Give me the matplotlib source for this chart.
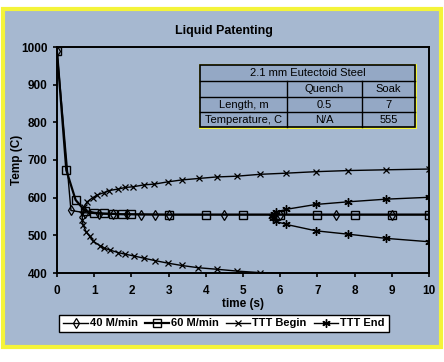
import matplotlib.pyplot as plt
from matplotlib.patches import Rectangle

plt.rcParams['font.family'] = ['Liberation Sans', 'DejaVu Sans']

# --- data ---
t_40 = [0, 0.375, 0.75, 1.125, 1.5, 1.875, 2.25, 2.625, 3.0, 4.5, 6.0, 7.5, 9.0, 10.5]
temp_40 = [990, 566, 560, 557, 556, 556, 555, 555, 555, 555, 555, 555, 555, 555]

t_60 = [0, 0.25, 0.5, 0.75, 1.0, 1.25, 1.5, 1.75, 2.0, 3, 4, 5, 6, 7, 8, 9, 10]
temp_60 = [990, 673, 594, 565, 560, 558, 557, 556, 556, 555, 555, 555, 555, 555, 555, 555, 555]

t_begin = [6.9, 5.46, 4.85, 4.29, 3.80, 3.35, 2.99, 2.63, 2.35, 2.08, 1.83, 1.65, 1.42,
           1.27, 1.16, 0.98, 0.88, 0.78, 0.70, 0.68, 0.68, 0.72, 0.81, 0.96, 1.08, 1.25,
           1.41, 1.65, 1.83, 2.05, 2.34, 2.62, 2.98, 3.35, 3.81, 4.29, 4.83, 5.46, 6.15,
           6.96, 7.83, 8.84, 10.0]
temp_begin = [396, 401, 405, 410, 414, 420, 426, 433, 439, 445, 450, 454, 461,
              466, 472, 484, 497, 510, 528, 541, 556, 575, 589, 600, 607, 613,
              619, 623, 627, 629, 634, 636, 642, 647, 651, 655, 657, 662, 665,
              669, 672, 674, 676]

t_end = [10.0, 8.84, 7.83, 6.96, 6.16, 5.89, 5.80, 5.77, 5.82, 5.90, 6.16, 6.96, 7.83, 8.84, 10.0]
temp_end = [483, 492, 503, 512, 529, 537, 545, 551, 557, 562, 569, 582, 589, 596, 601]

table_title = "2.1 mm Eutectoid Steel"
table_rows = [["", "Quench", "Soak"],
              ["Length, m", "0.5", "7"],
              ["Temperature, C", "N/A", "555"]]

bg = '#a6b8d0'
cell = '#94a8c5'
yellow = '#f4f43a'

W, H = 444, 362
fig = plt.figure(figsize=(W / 100, H / 100), dpi=100, facecolor='white')

# outer chart frame
frame = Rectangle((3 / W, 1 - 347 / H), 438 / W, 338 / H, transform=fig.transFigure,
                  facecolor=bg, edgecolor=yellow, linewidth=3, zorder=-10)
fig.patches.append(frame)

ax = fig.add_axes([57 / W, 1 - 273 / H, 372 / W, 226 / H])
ax.set_facecolor(bg)

ax.plot(t_40, temp_40, color='black', lw=1.0, marker='d', ms=5, mfc='none', mew=0.9,
        label='40 M/min')
ax.plot(t_60, temp_60, color='black', lw=1.6, marker='s', ms=6, mfc='none', mew=1.0,
        label='60 M/min')
ax.plot(t_begin, temp_begin, color='black', lw=1.0, marker='x', ms=5, mew=0.9,
        label='TTT Begin')
ax.plot(t_end, temp_end, color='black', lw=1.0, marker=(6, 2, 0), ms=6, mew=1.0,
        label='TTT End')

ax.set_xlim(0, 10)
ax.set_ylim(400, 1000)
ax.set_xticks(range(0, 11))
ax.set_yticks(range(400, 1001, 100))
for s in ax.spines.values():
    s.set_linewidth(1.4)
ax.tick_params(direction='out', length=3, width=1.2, labelsize=8.5)
ax.tick_params(axis='x', pad=6)
ax.tick_params(axis='y', pad=4)
for lab in ax.get_xticklabels() + ax.get_yticklabels():
    lab.set_fontweight('bold')

ax.set_xlabel('time (s)', fontsize=8.5, fontweight='bold', labelpad=0)
fig.text(17 / W, 1 - 160 / H, 'Temp (C)', rotation=90, fontsize=8.5, fontweight='bold',
         ha='center', va='center')
fig.text(224 / W, 1 - 31 / H, 'Liquid Patenting', fontsize=9, fontweight='bold',
         ha='center', va='center')

# info table
tax = fig.add_axes([197 / W, 1 - 130 / H, 221 / W, 68 / H])
tax.set_xlim(0, 221)
tax.set_ylim(68, 0)
tax.axis('off')
tax.add_patch(Rectangle((1.5, 1.5), 218, 65, facecolor=yellow, edgecolor=yellow, lw=0))
cols = [3, 90, 165, 218]
rows = [3, 19, 35, 50, 65]
tax.add_patch(Rectangle((cols[0], rows[0]), cols[-1] - cols[0], rows[-1] - rows[0],
                        facecolor=cell, edgecolor='black', lw=1.2))
for y in rows[1:-1]:
    tax.plot([cols[0], cols[-1]], [y, y], color='black', lw=1)
for x in cols[1:-1]:
    tax.plot([x, x], [rows[1], rows[-1]], color='black', lw=1)
tax.text((cols[0] + cols[-1]) / 2, (rows[0] + rows[1]) / 2, table_title, fontsize=8,
         ha='center', va='center')
for i, r in enumerate(table_rows):
    for j, txt in enumerate(r):
        tax.text((cols[j] + cols[j + 1]) / 2, (rows[i + 1] + rows[i + 2]) / 2, txt,
                 fontsize=8, ha='center', va='center')

leg = fig.legend(loc='center', bbox_to_anchor=(224 / W, 1 - 323.5 / H), ncol=4,
                 fontsize=8, frameon=True, fancybox=False, edgecolor='black',
                 facecolor='white', framealpha=1, handlelength=2.2, handletextpad=0.2,
                 columnspacing=0.6, borderpad=0.35)
leg.get_frame().set_linewidth(1.0)
for txt in leg.get_texts():
    txt.set_fontweight('bold')

fig.savefig('out.png', dpi=100)
